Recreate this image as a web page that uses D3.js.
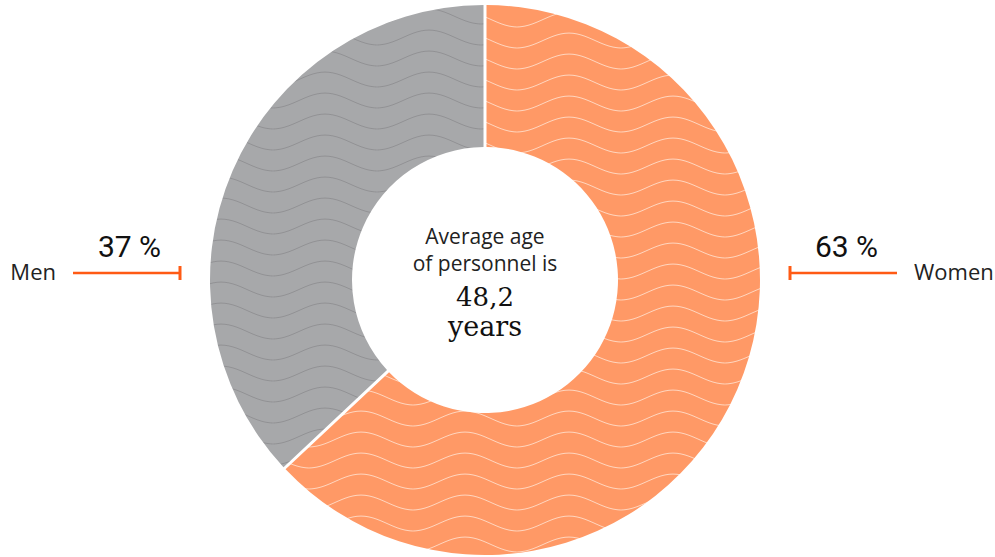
<!DOCTYPE html>
<html>
<head>
<meta charset="utf-8">
<script src="https://cdn.jsdelivr.net/npm/d3@7"></script>
<style>
body{margin:0;background:#fff}
svg{display:block}
.lbl{font-family:"Open Sans",sans-serif;fill:#222}
.pct{font-family:Roboto,sans-serif;fill:#111}
.big{font-family:"DejaVu Serif",serif;fill:#111}
</style>
</head>
<body>
<div id="chart"></div>
<script>
var categories=["Women","Men"]
var values=[63,37]
var fills=["#ff9966","#a7a8aa"]
var waveColors=["#ffdcc8","#8e8f91"]
var centerLines=["Average age","of personnel is"]
var avgAge="48,2"
var avgUnit="years"

var W=995,H=557
var cx=485,cy=280
var outer=275,inner=133

var svg=d3.select('#chart').append('svg')
    .attr('width',W)
    .attr('height',H)

var defs=svg.append('defs')

// wave hatch, one per slice (trough position)
var lambda=104,amp=7.5,step=21
var phase=[[517,111],[273,171]]
var wave=d3.line().curve(d3.curveBasis)
var pts=d3.range(0,lambda+1,4).map(function(x){
    return [x,amp*Math.cos(2*Math.PI*x/lambda)]
})
categories.forEach(function(c,i){
    var p=defs.append('pattern')
	.attr('id','wave'+i)
	.attr('patternUnits','userSpaceOnUse')
	.attr('width',lambda)
	.attr('height',step)
	.attr('x',phase[i][0]-cx)
	.attr('y',phase[i][1]-2*amp-cy)
    p.append('rect')
	.attr('width',lambda).attr('height',step)
	.attr('fill',fills[i])
    ;[-step,0,step].forEach(function(dy){
	p.append('path')
	    .attr('d',wave(pts))
	    .attr('transform','translate(0,'+(amp+dy)+')')
	    .attr('fill','none')
	    .attr('stroke',waveColors[i])
	    .attr('stroke-width',0.9)
    })
})

var pie=d3.pie().sort(null).value(function(d){return d})
var arc=d3.arc()
    .innerRadius(inner)
    .outerRadius(outer)
    .padAngle(3/outer)
    .padRadius(outer)

var g=svg.append('g')
    .attr('transform','translate('+cx+','+cy+')')

g.selectAll('path.slice')
    .data(pie(values))
    .enter().append('path')
    .attr('class','slice')
    .attr('d',arc)
    .attr('fill',function(d,i){return 'url(#wave'+i+')'})

// side labels
var lineY=273,gap=30,len=107
var side=[
    {name:categories[0],v:values[0],x0:cx+outer+gap,dir:1},
    {name:categories[1],v:values[1],x0:cx-outer-gap,dir:-1}
]
side.forEach(function(s){
    var x1=s.x0+s.dir*len
    svg.append('line')
	.attr('x1',s.x0).attr('x2',x1)
	.attr('y1',lineY).attr('y2',lineY)
	.attr('stroke','#ff5a14').attr('stroke-width',2.5)
    svg.append('line')
	.attr('x1',s.x0).attr('x2',s.x0)
	.attr('y1',lineY-7).attr('y2',lineY+7)
	.attr('stroke','#ff5a14').attr('stroke-width',3)
    svg.append('text')
	.attr('class','pct')
	.attr('x',(s.x0+x1)/2+3)
	.attr('y',lineY-16)
	.attr('text-anchor','middle')
	.style('font-size','30px')
	.text(s.v+' %')
    svg.append('text')
	.attr('class','lbl')
	.attr('x',x1+s.dir*17)
	.attr('y',lineY+7)
	.attr('text-anchor',s.dir>0?'start':'end')
	.style('font-size','22px')
	.text(s.name)
})

// center text
centerLines.forEach(function(t,i){
    svg.append('text')
	.attr('class','lbl')
	.attr('x',cx)
	.attr('y',244+i*27)
	.attr('text-anchor','middle')
	.style('font-size','21px')
	.text(t)
})
svg.append('text')
    .attr('class','big')
    .attr('x',cx)
    .attr('y',306)
    .attr('text-anchor','middle')
    .style('font-size','26px')
    .text(avgAge)
svg.append('text')
    .attr('class','big')
    .attr('x',cx)
    .attr('y',336)
    .attr('text-anchor','middle')
    .style('font-size','27px')
    .text(avgUnit)
</script>
</body>
</html>
